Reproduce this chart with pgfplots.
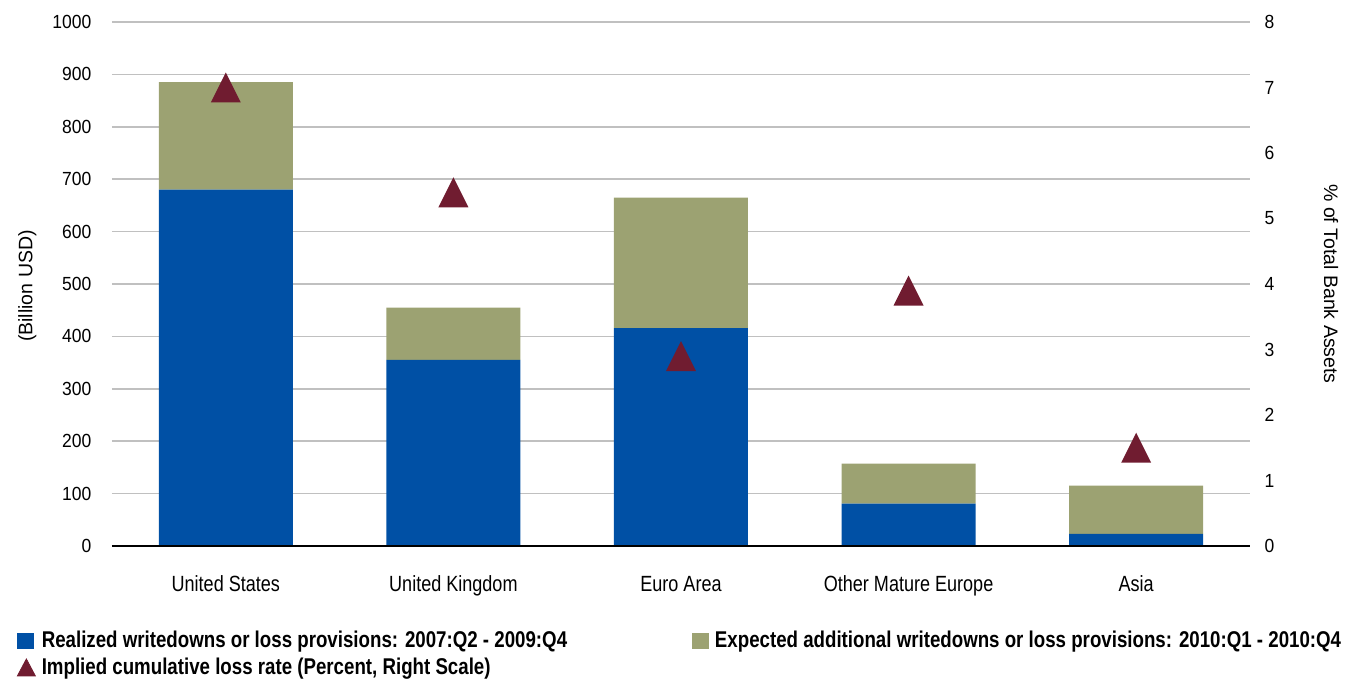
\documentclass[border=0pt]{standalone}
\usepackage{fontspec}
\setmainfont{Liberation Sans}
\newfontfamily\narrowfont{Liberation Sans}[FakeStretch=0.82]
\newfontfamily\semifont{Liberation Sans}[FakeStretch=0.92]
\usepackage{pgfplots}
\pgfplotsset{compat=1.18}

\definecolor{realblue}{RGB}{0,80,165}
\definecolor{expgreen}{RGB}{156,162,114}
\definecolor{lossred}{RGB}{112,28,48}
\definecolor{gridgray}{RGB}{192,192,192}

% triangle marker, centred on its bounding box
\pgfdeclareplotmark{lossTri}{%
  \pgfpathmoveto{\pgfqpoint{0pt}{7.5pt}}%
  \pgfpathlineto{\pgfqpoint{7.5pt}{-7.5pt}}%
  \pgfpathlineto{\pgfqpoint{-7.5pt}{-7.5pt}}%
  \pgfpathclose\pgfusepathqfill}

\begin{document}
\begin{tikzpicture}
% ---------- left axis: stacked writedowns (billion USD) ----------
\begin{axis}[
  scale only axis, width=569pt, height=262pt,
  xmin=-0.5, xmax=4.5, ymin=0, ymax=1000,
  ybar stacked, bar width=67pt,
  xtick={0,...,4},
  xticklabels={United States, United Kingdom, Euro Area, Other Mature Europe, Asia},
  ytick={0,100,...,1000},
  major tick length=0pt,
  axis line style={draw=none},
  ymajorgrids, major grid style={gridgray, line width=0.75pt},
  /pgf/number format/assume math mode=true,
  /pgf/number format/1000 sep={},
  xticklabel style={font=\narrowfont\fontsize{11}{13}\selectfont, yshift=-11.5pt},
  yticklabel style={font=\semifont\fontsize{9.5}{11}\selectfont, xshift=-6.8pt},
  ylabel={(Billion USD)},
  ylabel style={font=\fontsize{9.75}{11}\selectfont,
    at={(axis description cs:-0.0743,0.496)}, anchor=center},
]
\addplot[fill=realblue, draw=none] coordinates {(0,680) (1,355) (2,416) (3,81) (4,23)};
\addplot[fill=expgreen, draw=none] coordinates {(0,205) (1,100) (2,249) (3,76) (4,92)};
\end{axis}
% ---------- right axis: implied loss rate (percent) ----------
\begin{axis}[
  scale only axis, width=569pt, height=262pt,
  xmin=-0.5, xmax=4.5, ymin=0, ymax=8,
  axis x line*=bottom, axis y line*=right,
  x axis line style={-, black, line width=1pt},
  y axis line style={draw=none},
  xtick=\empty,
  ytick={0,...,8},
  major tick length=0pt,
  /pgf/number format/assume math mode=true,
  yticklabel style={font=\semifont\fontsize{9.5}{11}\selectfont, xshift=3.8pt},
  ylabel={\% of Total Bank Assets},
  ylabel style={font=\fontsize{9.75}{11}\selectfont,
    at={(axis description cs:1.0712,0.5)}, anchor=center, rotate=180},
  legend columns=2,
  legend style={draw=none, fill=none, inner sep=0pt, outer sep=0pt,
    at={(axis description cs:-0.0835,-0.1622)}, anchor=north west,
    font=\narrowfont\bfseries\fontsize{11.4}{13.5}\selectfont,
    nodes={inner xsep=0pt, inner ysep=0pt},
    row sep=3.6pt,
    /tikz/every odd column/.append style={column sep=3pt},
    /tikz/every even column/.append style={column sep=62.5pt}},
  legend cell align=left,
]
\addlegendimage{legend image code/.code={\fill[realblue] (0pt,-3.75pt) rectangle (8pt,3.75pt);}}
\addlegendentry{Realized writedowns or loss provisions: 2007:Q2 - 2009:Q4}
\addlegendimage{legend image code/.code={\fill[expgreen] (0pt,-3.75pt) rectangle (8pt,3.75pt);}}
\addlegendentry{Expected additional writedowns or loss provisions: 2010:Q1 - 2010:Q4}
\addplot[only marks, mark=lossTri, color=lossred,
  legend image code/.code={\fill[lossred] (0pt,-4.25pt) -- (9pt,-4.25pt) -- (4.5pt,4.25pt) -- cycle;}]
  coordinates {(0,7.0) (1,5.4) (2,2.9) (3,3.9) (4,1.5)};
\addlegendentry{Implied cumulative loss rate (Percent, Right Scale)}
\end{axis}
\pgfresetboundingbox
\useasboundingbox (-56pt,-68.5pt) rectangle (617pt,273pt);
\end{tikzpicture}
\end{document}
